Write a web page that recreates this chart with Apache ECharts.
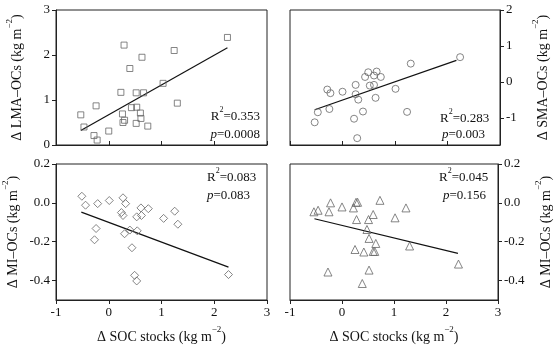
<!DOCTYPE html>
<html><head><meta charset="utf-8">
<script src="https://cdn.jsdelivr.net/npm/echarts@6/dist/echarts.min.js"></script>
<style>html,body{margin:0;padding:0;background:#fff}#c{width:554px;height:345px}</style>
</head><body><div id="c"></div>
<script>
// ---- data ----
const xTicks = [-1, 0, 1, 2, 3];
const lmaX = [-0.53,-0.47,-0.24,-0.28,-0.22,0.0,0.23,0.29,0.26,0.27,0.30,0.40,0.43,0.52,0.53,0.52,0.60,0.61,0.63,0.66,0.74,1.03,1.24,1.30,2.25];
const lmaY = [0.67,0.40,0.87,0.21,0.11,0.31,1.17,2.22,0.69,0.50,0.55,1.70,0.83,1.16,0.84,0.48,0.71,0.59,1.95,1.16,0.42,1.37,2.10,0.93,2.39];
const smaX = [-0.53,-0.47,-0.29,-0.23,-0.25,0.0,0.22,0.25,0.25,0.30,0.28,0.39,0.43,0.49,0.52,0.60,0.60,0.63,0.65,0.73,1.01,1.23,1.30,2.24];
const smaY = [-1.12,-0.84,-0.21,-0.31,-0.75,-0.27,-1.02,-0.08,-0.34,-0.49,-1.56,-0.82,0.14,0.27,-0.10,0.18,-0.08,-0.44,0.29,0.14,-0.19,-0.83,0.51,0.69];
const miDX = [-0.51,-0.44,-0.21,-0.24,-0.27,0.01,0.27,0.32,0.24,0.27,0.30,0.40,0.44,0.53,0.54,0.49,0.53,0.62,0.61,0.75,1.04,1.25,1.31,2.27];
const miDY = [0.034,-0.012,-0.004,-0.132,-0.19,0.012,0.026,-0.004,-0.05,-0.065,-0.159,-0.14,-0.231,-0.072,-0.144,-0.373,-0.402,-0.065,-0.026,-0.03,-0.08,-0.043,-0.11,-0.369];
const miTX = [-0.54,-0.46,-0.22,-0.25,-0.27,0.0,0.22,0.27,0.30,0.28,0.25,0.42,0.39,0.51,0.48,0.52,0.52,0.60,0.60,0.65,0.63,0.73,1.02,1.23,1.30,2.24];
const miTY = [-0.046,-0.038,0.0,-0.046,-0.356,-0.021,-0.026,0.003,0.003,-0.086,-0.24,-0.253,-0.415,-0.086,-0.137,-0.183,-0.346,-0.06,-0.25,-0.209,-0.25,0.013,-0.077,-0.026,-0.222,-0.315];
const fitX = [[-0.53, 2.25], [-0.53, 2.17], [-0.52, 2.27], [-0.53, 2.23]];
const fitY = [[0.32, 2.16], [-0.77, 0.60], [-0.048, -0.331], [-0.082, -0.26]];
const r2 = ['0.353', '0.283', '0.083', '0.045'];
const pv = ['0.0008', '0.003', '0.083', '0.156'];
const yTicksLMA = [0, 1, 2, 3];
const yTicksSMA = [-1, 0, 1, 2];
const yTicksMI = [-0.4, -0.2, 0.0, 0.2];
const yNames = ['Δ LMA–OCs (kg m', 'Δ SMA–OCs (kg m', 'Δ MI–OCs (kg m', 'Δ MI–OCs (kg m'];
const xName = 'Δ SOC stocks (kg m';
const unitExp = '−2';

// ---- chart ----
const FONT = 'Liberation Serif';
const zip = (a, b) => a.map((v, i) => [v, b[i]]);
const unitText = s => '{n|' + s + '}{sup|' + unitExp + '}{n|)}';
const nameRich = {
  n: { fontFamily: FONT, fontSize: 14, color: '#111', lineHeight: 19, verticalAlign: 'bottom' },
  sup: { fontFamily: FONT, fontSize: 9, color: '#111', lineHeight: 10, verticalAlign: 'top' }
};
const grids = [
  { left: 56, top: 10, width: 211, height: 135 },
  { left: 290, top: 10, width: 210, height: 135 },
  { left: 56, top: 164, width: 211, height: 136 },
  { left: 290, top: 164, width: 210, height: 136 }
].map(g => Object.assign(g, { show: true, borderColor: '#222', borderWidth: 1, backgroundColor: 'transparent' }));

const xAxes = [0, 1, 2, 3].map(i => {
  const bottom = i >= 2;
  return {
    type: 'value', gridIndex: i, min: -1, max: 3, interval: 1,
    splitLine: { show: false },
    axisLine: { onZero: false, lineStyle: { color: '#222', width: 1 } },
    axisTick: { show: true, inside: !bottom, length: 4, customValues: xTicks, lineStyle: { color: '#222' } },
    axisLabel: { show: bottom, customValues: xTicks, color: '#111', fontFamily: FONT, fontSize: 13, margin: 6 },
    name: bottom ? unitText(xName) : '', nameLocation: 'middle', nameGap: 25,
    nameTextStyle: { color: '#111', fontFamily: FONT, fontSize: 14, rich: nameRich }
  };
});
const yDefs = [
  { min: 0, max: 3, ticks: yTicksLMA, pos: 'left', fmt: v => String(v), gap: 32 },
  { min: -1.75, max: 2, ticks: yTicksSMA, pos: 'right', fmt: v => String(v), gap: 31 },
  { min: -0.5, max: 0.2, ticks: yTicksMI, pos: 'left', fmt: v => v.toFixed(1), gap: 36 },
  { min: -0.5, max: 0.2, ticks: yTicksMI, pos: 'right', fmt: v => v.toFixed(1), gap: 36 }
];
const yAxes = yDefs.map((d, i) => ({
  type: 'value', gridIndex: i, min: d.min, max: d.max, position: d.pos,
  splitLine: { show: false },
  axisLine: { show: true, onZero: false, lineStyle: { color: '#222', width: 1 } },
  axisTick: { show: true, inside: false, length: 4, customValues: d.ticks, lineStyle: { color: '#222' } },
  axisLabel: { customValues: d.ticks, formatter: d.fmt, color: '#111', fontFamily: FONT, fontSize: 13, margin: 6 },
  name: unitText(yNames[i]), nameLocation: 'middle', nameRotate: 90, nameGap: d.gap,
  nameTextStyle: { color: '#111', fontFamily: FONT, fontSize: 14, rich: nameRich }
}));

const pts = [[lmaX, lmaY, 'rect', 6], [smaX, smaY, 'circle', 7], [miDX, miDY, 'diamond', 8], [miTX, miTY, 'triangle', 8]];
const series = [];
pts.forEach((p, i) => {
  series.push({
    type: 'scatter', xAxisIndex: i, yAxisIndex: i, data: zip(p[0], p[1]),
    symbol: p[2], symbolSize: p[3],
    itemStyle: { color: 'rgba(255,255,255,0)', borderColor: '#666', borderWidth: 1 },
    emphasis: { disabled: true }, z: 3
  });
  series.push({
    type: 'line', xAxisIndex: i, yAxisIndex: i, data: zip(fitX[i], fitY[i]),
    symbol: 'none', lineStyle: { color: '#111', width: 1.2 }, z: 2
  });
});

const txtStyle = {
  fontFamily: FONT, fontSize: 13, fontWeight: 'normal', color: '#111',
  rich: {
    n: { fontFamily: FONT, fontSize: 13, color: '#111', lineHeight: 17, verticalAlign: 'bottom' },
    i: { fontFamily: FONT, fontSize: 13, fontStyle: 'italic', color: '#111', lineHeight: 17, verticalAlign: 'bottom' },
    sup: { fontFamily: FONT, fontSize: 8, color: '#111', lineHeight: 9, verticalAlign: 'top' }
  }
};
const statPos = [
  { r: { right: 294, top: 106 }, p: { right: 294, top: 124 } },
  { r: { left: 440, top: 108 }, p: { left: 442, top: 124 } },
  { r: { left: 207, top: 167 }, p: { left: 207, top: 185 } },
  { r: { left: 439, top: 167 }, p: { left: 443, top: 185 } }
];
const titles = [];
statPos.forEach((s, i) => {
  titles.push(Object.assign({ text: '{n|R}{sup|2}{n|=' + r2[i] + '}', textStyle: txtStyle, padding: 0 }, s.r));
  titles.push(Object.assign({ text: '{i|p}{n|=' + pv[i] + '}', textStyle: txtStyle, padding: 0 }, s.p));
});

const chart = echarts.init(document.getElementById('c'), null, { renderer: 'canvas' });
chart.setOption({
  animation: false,
  backgroundColor: '#fff',
  title: titles,
  grid: grids,
  xAxis: xAxes,
  yAxis: yAxes,
  series: series
});
</script>
</body></html>
